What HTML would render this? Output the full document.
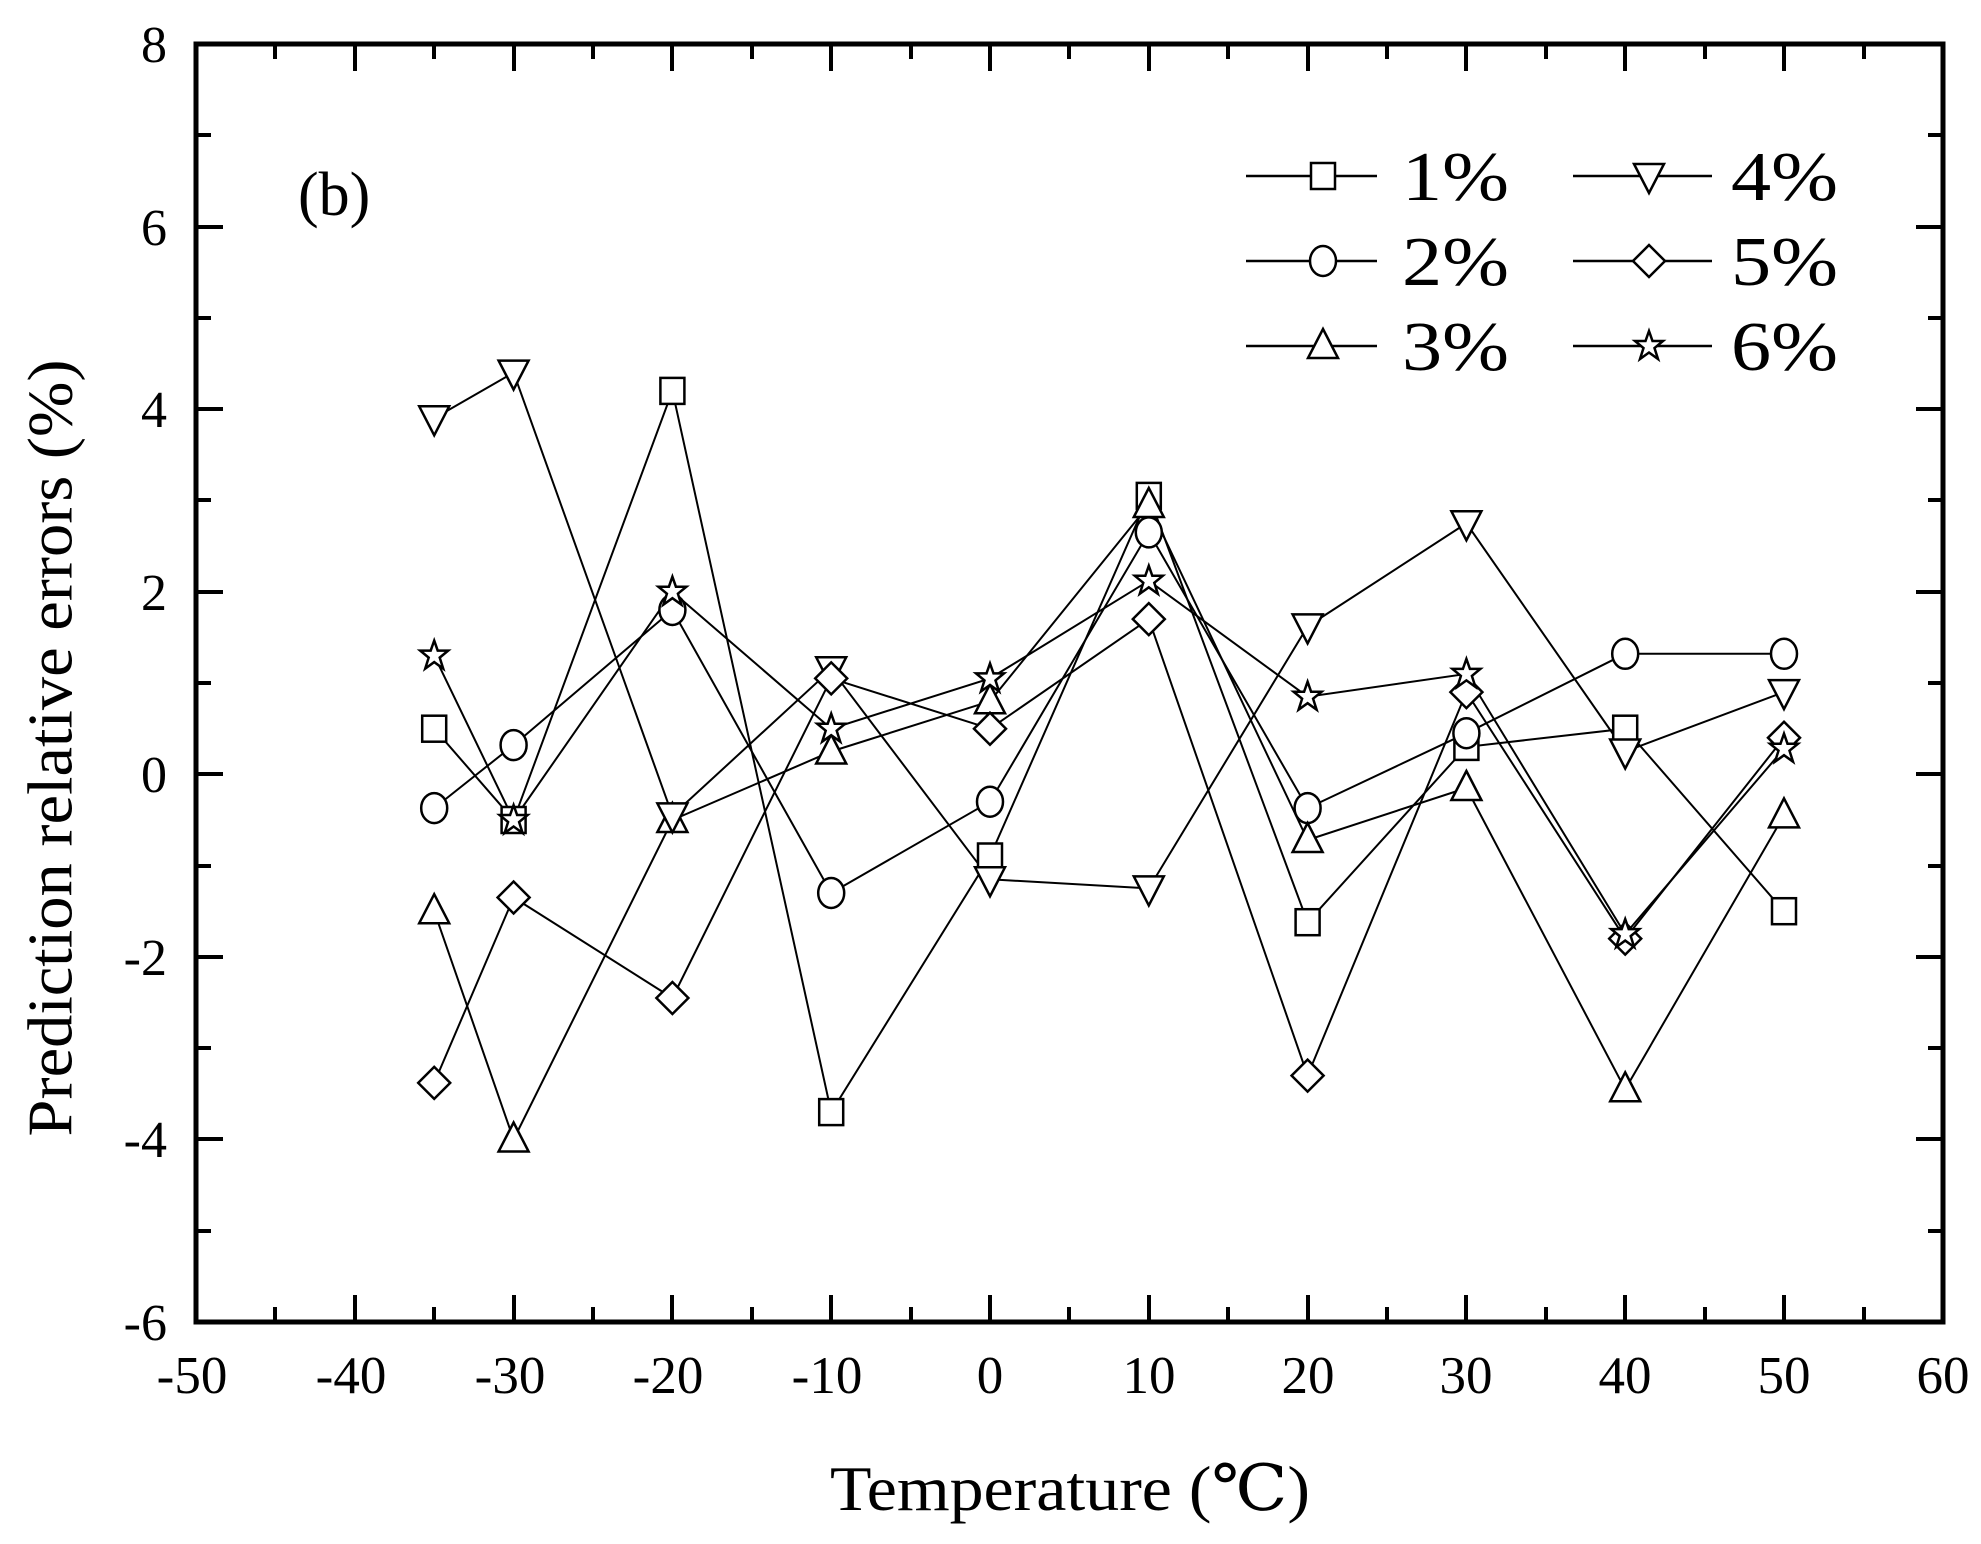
<!DOCTYPE html>
<html><head><meta charset="utf-8"><style>
html,body{margin:0;padding:0;background:#fff}
svg{display:block}
text{font-family:"Liberation Serif","DejaVu Serif",serif;fill:#000}
</style></head><body>
<svg width="1981" height="1544" viewBox="0 0 1981 1544" xmlns="http://www.w3.org/2000/svg">
<defs>
<g id="sq"><rect x="-12" y="-13" width="24" height="26" fill="#fff" stroke="#000" stroke-width="2.5"/></g>
<g id="ci"><ellipse cx="0" cy="0" rx="13" ry="15" fill="#fff" stroke="#000" stroke-width="2.5"/></g>
<g id="tu"><polygon points="0,-17 15,12 -15,12" fill="#fff" stroke="#000" stroke-width="2.5"/></g>
<g id="td"><polygon points="0,17 15,-12 -15,-12" fill="#fff" stroke="#000" stroke-width="2.5"/></g>
<g id="di"><polygon points="0,-16 16,0 0,16 -16,0" fill="#fff" stroke="#000" stroke-width="2.5"/></g>
<g id="st"><polygon points="0,-15 3.5,-5 14,-5 5.5,2 9,13 0,6.5 -9,13 -5.5,2 -14,-5 -3.5,-5" fill="#fff" stroke="#000" stroke-width="2.5"/></g>
</defs>
<g stroke="#000" stroke-width="5" fill="none" stroke-linecap="square">
<rect x="196" y="44" width="1747" height="1278"/>
</g>
<g stroke="#000" stroke-width="4">
<path d="M196,1322v-27M355,1322v-27M514,1322v-27M672,1322v-27M831,1322v-27M990,1322v-27M1149,1322v-27M1308,1322v-27M1466,1322v-27M1625,1322v-27M1784,1322v-27M1943,1322v-27
M196,44v27M355,44v27M514,44v27M672,44v27M831,44v27M990,44v27M1149,44v27M1308,44v27M1466,44v27M1625,44v27M1784,44v27M1943,44v27"/>
<path d="M275,1322v-15M434,1322v-15M593,1322v-15M752,1322v-15M911,1322v-15M1069,1322v-15M1228,1322v-15M1387,1322v-15M1546,1322v-15M1705,1322v-15M1864,1322v-15
M275,44v15M434,44v15M593,44v15M752,44v15M911,44v15M1069,44v15M1228,44v15M1387,44v15M1546,44v15M1705,44v15M1864,44v15"/>
<path d="M196,44h27M196,227h27M196,409h27M196,592h27M196,774h27M196,957h27M196,1139h27M196,1322h27
M1943,44h-27M1943,227h-27M1943,409h-27M1943,592h-27M1943,774h-27M1943,957h-27M1943,1139h-27M1943,1322h-27"/>
<path d="M196,135h15M196,318h15M196,500h15M196,683h15M196,866h15M196,1048h15M196,1231h15
M1943,135h-15M1943,318h-15M1943,500h-15M1943,683h-15M1943,866h-15M1943,1048h-15M1943,1231h-15"/>
</g>
<g font-size="52" text-anchor="end">
<text x="167" y="62">8</text><text x="167" y="245">6</text><text x="167" y="427">4</text><text x="167" y="610">2</text><text x="167" y="792">0</text><text x="167" y="975">-2</text><text x="167" y="1157">-4</text><text x="167" y="1340">-6</text>
</g>
<g font-size="53" text-anchor="middle">
<text x="192" y="1393">-50</text><text x="351" y="1393">-40</text><text x="510" y="1393">-30</text><text x="668" y="1393">-20</text><text x="827" y="1393">-10</text><text x="990" y="1393">0</text><text x="1149" y="1393">10</text><text x="1308" y="1393">20</text><text x="1466" y="1393">30</text><text x="1625" y="1393">40</text><text x="1784" y="1393">50</text><text x="1943" y="1393">60</text>
</g>
<text x="830" y="1510" font-size="64" textLength="480" lengthAdjust="spacingAndGlyphs">Temperature (℃)</text>
<text transform="translate(57,748) rotate(-90)" font-size="64" text-anchor="middle" dominant-baseline="middle" textLength="777" lengthAdjust="spacingAndGlyphs">Prediction relative errors (%)</text>
<text x="298" y="215" font-size="62">(b)</text>
<g stroke="#000" stroke-width="2" fill="none">
<polyline points="434.2,728.7 513.6,820 672.4,390.9 831.2,1112.1 990,856.5 1148.8,495.9 1307.6,922.2 1466.4,746.9 1625.2,728.7 1784,911.2"/>
<polyline points="434.2,808.1 513.6,745.1 672.4,610 831.2,893 990,801.7 1148.8,532.4 1307.6,808.1 1466.4,733.2 1625.2,653.8 1784,653.8"/>
<polyline points="434.2,911.2 513.6,1139.5 672.4,820 831.2,751.5 990,701.3 1148.8,505 1307.6,840 1466.4,788 1625.2,1089.3 1784,815.4"/>
<polyline points="434.2,418.3 513.6,372.6 672.4,815.4 831.2,669.3 990,879.3 1148.8,888.4 1307.6,626.4 1466.4,523.3 1625.2,751.5 1784,692.1"/>
<polyline points="434.2,1082.9 513.6,897.5 672.4,998 831.2,678.4 990,728.7 1148.8,619.1 1307.6,1075.6 1466.4,692.1 1625.2,938.6 1784,737.8"/>
<polyline points="434.2,655.6 513.6,820 672.4,591.7 831.2,728.7 990,678.4 1148.8,580.8 1307.6,696.7 1466.4,673.9 1625.2,934.1 1784,748.7"/>
<path d="M1246,176H1377M1246,261H1377M1246,346H1377M1573,176H1712M1573,261H1712M1573,346H1712" stroke-width="2.5"/>
</g>
<g>
<use href="#sq" x="434.2" y="728.7"/><use href="#sq" x="513.6" y="820"/><use href="#sq" x="672.4" y="390.9"/><use href="#sq" x="831.2" y="1112.1"/><use href="#sq" x="990" y="856.5"/><use href="#sq" x="1148.8" y="495.9"/><use href="#sq" x="1307.6" y="922.2"/><use href="#sq" x="1466.4" y="746.9"/><use href="#sq" x="1625.2" y="728.7"/><use href="#sq" x="1784" y="911.2"/>
<use href="#ci" x="434.2" y="808.1"/><use href="#ci" x="513.6" y="745.1"/><use href="#ci" x="672.4" y="610"/><use href="#ci" x="831.2" y="893"/><use href="#ci" x="990" y="801.7"/><use href="#ci" x="1148.8" y="532.4"/><use href="#ci" x="1307.6" y="808.1"/><use href="#ci" x="1466.4" y="733.2"/><use href="#ci" x="1625.2" y="653.8"/><use href="#ci" x="1784" y="653.8"/>
<use href="#tu" x="434.2" y="911.2"/><use href="#tu" x="513.6" y="1139.5"/><use href="#tu" x="672.4" y="820"/><use href="#tu" x="831.2" y="751.5"/><use href="#tu" x="990" y="701.3"/><use href="#tu" x="1148.8" y="505"/><use href="#tu" x="1307.6" y="840"/><use href="#tu" x="1466.4" y="788"/><use href="#tu" x="1625.2" y="1089.3"/><use href="#tu" x="1784" y="815.4"/>
<use href="#td" x="434.2" y="418.3"/><use href="#td" x="513.6" y="372.6"/><use href="#td" x="672.4" y="815.4"/><use href="#td" x="831.2" y="669.3"/><use href="#td" x="990" y="879.3"/><use href="#td" x="1148.8" y="888.4"/><use href="#td" x="1307.6" y="626.4"/><use href="#td" x="1466.4" y="523.3"/><use href="#td" x="1625.2" y="751.5"/><use href="#td" x="1784" y="692.1"/>
<use href="#di" x="434.2" y="1082.9"/><use href="#di" x="513.6" y="897.5"/><use href="#di" x="672.4" y="998"/><use href="#di" x="831.2" y="678.4"/><use href="#di" x="990" y="728.7"/><use href="#di" x="1148.8" y="619.1"/><use href="#di" x="1307.6" y="1075.6"/><use href="#di" x="1466.4" y="692.1"/><use href="#di" x="1625.2" y="938.6"/><use href="#di" x="1784" y="737.8"/>
<use href="#st" x="434.2" y="655.6"/><use href="#st" x="513.6" y="820"/><use href="#st" x="672.4" y="591.7"/><use href="#st" x="831.2" y="728.7"/><use href="#st" x="990" y="678.4"/><use href="#st" x="1148.8" y="580.8"/><use href="#st" x="1307.6" y="696.7"/><use href="#st" x="1466.4" y="673.9"/><use href="#st" x="1625.2" y="934.1"/><use href="#st" x="1784" y="748.7"/>
<use href="#sq" x="1323" y="176"/><use href="#ci" x="1323" y="261"/><use href="#tu" x="1323" y="346"/>
<use href="#td" x="1649" y="176"/><use href="#di" x="1649" y="261"/><use href="#st" x="1649" y="346"/>
</g>
<g font-size="70">
<text x="1402" y="200" textLength="107" lengthAdjust="spacingAndGlyphs">1%</text><text x="1402" y="285" textLength="107" lengthAdjust="spacingAndGlyphs">2%</text><text x="1402" y="370" textLength="107" lengthAdjust="spacingAndGlyphs">3%</text>
<text x="1731" y="200" textLength="107" lengthAdjust="spacingAndGlyphs">4%</text><text x="1731" y="285" textLength="107" lengthAdjust="spacingAndGlyphs">5%</text><text x="1731" y="370" textLength="107" lengthAdjust="spacingAndGlyphs">6%</text>
</g>
</svg>
</body></html>
